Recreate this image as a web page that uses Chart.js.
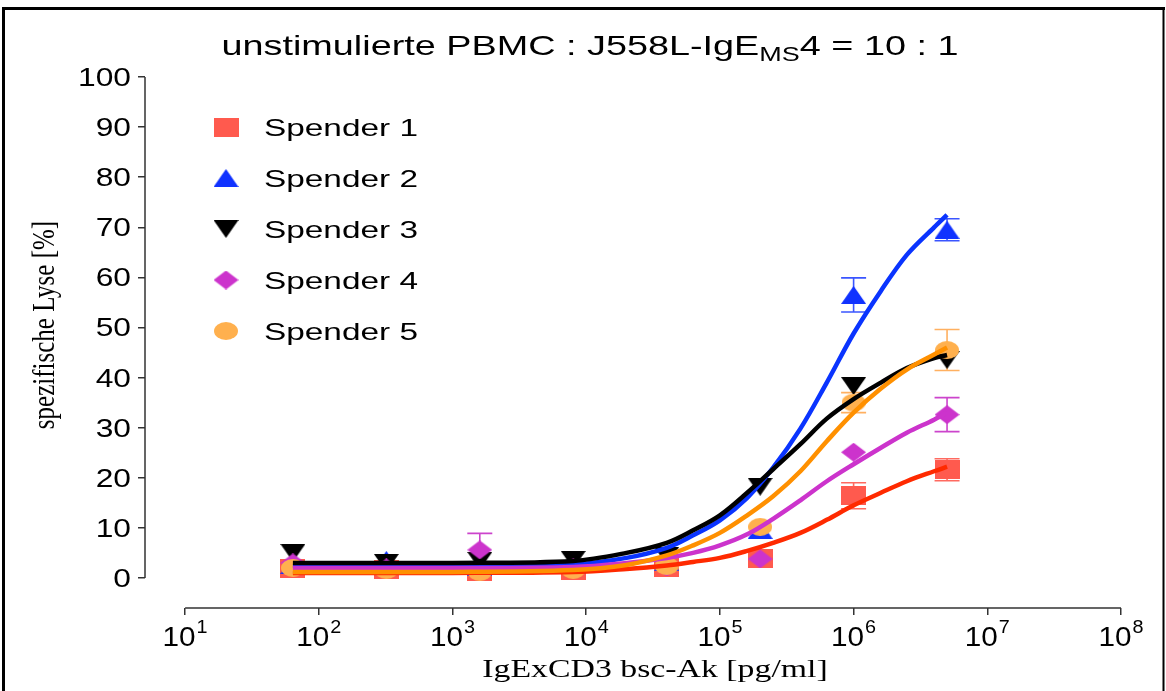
<!DOCTYPE html>
<html>
<head>
<meta charset="utf-8">
<script src="https://cdn.jsdelivr.net/npm/chart.js@4.4.0/dist/chart.umd.min.js"></script>
<style>
  html, body { margin: 0; padding: 0; background: #fff; }
  #wrap { width: 1166px; height: 691px; }
</style>
</head>
<body>
<div id="wrap"><canvas id="lyse" width="1166" height="691"></canvas></div>
<script>
// Konzentrationen der Messpunkte [pg/ml], 1:5 Verdünnungsreihe
var CONC = [64, 320, 1600, 8000, 40000, 200000, 1000000, 5000000];

var LABELS = ['Spender 1', 'Spender 2', 'Spender 3', 'Spender 4', 'Spender 5'];

// Mittelwerte spezifische Lyse [%]
var LYSE_S1 = [1.8, 1.6, 1.2, 1.4, 2.0, 3.8, 16.4, 21.6];
var LYSE_S2 = [2.6, 3.6, 2.2, 2.6, 3.2, 9.6, 56.5, 69.5];
var LYSE_S3 = [5.0, 3.0, 3.4, 3.6, 4.4, 18.2, 38.3, 43.5];
var LYSE_S4 = [3.0, 2.0, 5.6, 2.0, 2.2, 3.8, 25.1, 32.6];
var LYSE_S5 = [2.0, 1.6, 1.2, 1.6, 2.4, 10.2, 35.0, 45.5];

// Standardfehler (null = kein Balken)
var SEM_S1 = [null, null, null, null, null, null, 2.6, 2.2];
var SEM_S2 = [null, null, null, null, null, null, 3.4, 2.2];
var SEM_S3 = [null, null, null, null, null, null, null, null];
var SEM_S4 = [null, null, 3.3, null, null, null, null, 3.4];
var SEM_S5 = [null, null, null, null, null, null, 2.0, 4.1];

// Stützstellen der Fit-Kurven
var FIT_CONC = [64, 1000, 8000, 20000, 40000, 63000, 100000, 160000, 250000,
                400000, 630000, 1000000, 1600000, 2500000, 4000000, 5000000];
var FIT_S1 = [1.0, 1.0, 1.2, 1.8, 2.5, 3.2, 4.0, 5.4, 7.0, 9.0, 11.6, 14.5, 17.0, 19.3, 21.3, 22.2];
var FIT_S2 = [2.4, 2.4, 2.7, 4.0, 6.0, 8.5, 11.5, 16.0, 22.0, 29.8, 39.0, 48.8, 57.3, 64.5, 70.0, 72.5];
var FIT_S3 = [3.0, 3.0, 3.4, 5.0, 7.0, 9.5, 12.5, 17.0, 21.7, 26.7, 31.8, 35.7, 39.0, 41.9, 43.9, 44.5];
var FIT_S4 = [2.0, 2.0, 2.2, 3.0, 4.0, 5.0, 6.5, 8.7, 11.8, 15.5, 19.3, 22.7, 26.0, 29.0, 31.6, 33.0];
var FIT_S5 = [1.2, 1.2, 1.6, 2.6, 4.5, 6.5, 9.0, 12.5, 16.3, 21.3, 27.3, 33.0, 37.8, 41.6, 44.6, 46.0];

var X_TICKS = [1e1, 1e2, 1e3, 1e4, 1e5, 1e6, 1e7, 1e8];
var Y_TICKS = [0, 10, 20, 30, 40, 50, 60, 70, 80, 90, 100];

var SANS = '"Liberation Sans", Arial, sans-serif';
var SERIF = '"Liberation Serif", "Times New Roman", serif';

var MARKER_COLORS = ['#ff5a4e', '#1032ff', '#000000', '#cc33cc', '#ffb04e'];
var LINE_COLORS   = ['#ff2a00', '#0a34ff', '#000000', '#cc33cc', '#ff9000'];
var ERR_COLORS    = ['#ff6a60', '#3a55ff', '#000000', '#cc44cc', '#ffb060'];

// Marker als kleine Canvas-Bilder (Chart.js zeichnet sie zentriert)
function makeMarker(shape, w, h, color) {
    var c = document.createElement('canvas');
    c.width = w; c.height = h;
    var g = c.getContext('2d');
    g.fillStyle = color;
    g.beginPath();
    if (shape === 'square') {
        g.rect(0, 0, w, h);
    } else if (shape === 'up') {
        g.moveTo(w / 2, 0); g.lineTo(w, h); g.lineTo(0, h);
    } else if (shape === 'down') {
        g.moveTo(0, 0); g.lineTo(w, 0); g.lineTo(w / 2, h);
    } else if (shape === 'diamond') {
        g.moveTo(w / 2, 0); g.lineTo(w, h / 2); g.lineTo(w / 2, h); g.lineTo(0, h / 2);
    } else {
        g.ellipse(w / 2, h / 2, w / 2, h / 2, 0, 0, Math.PI * 2);
    }
    g.closePath();
    g.fill();
    return c;
}

var MARKERS = [
    makeMarker('square', 25, 19, MARKER_COLORS[0]),
    makeMarker('up', 25, 18, MARKER_COLORS[1]),
    makeMarker('down', 25, 18, MARKER_COLORS[2]),
    makeMarker('diamond', 25, 19, MARKER_COLORS[3]),
    makeMarker('circle', 24, 18, MARKER_COLORS[4])
];

var MEANS = [LYSE_S1, LYSE_S2, LYSE_S3, LYSE_S4, LYSE_S5];
var SEMS = [SEM_S1, SEM_S2, SEM_S3, SEM_S4, SEM_S5];
var FITS = [FIT_S1, FIT_S2, FIT_S3, FIT_S4, FIT_S5];

function pairs(xs, ys) {
    return xs.map(function(x, i) { return { x: x, y: ys[i] }; });
}

// Text mit horizontaler Streckung
function wideText(ctx, text, x, y, size, family, sx, align) {
    ctx.save();
    ctx.font = size + 'px ' + family;
    ctx.textBaseline = 'alphabetic';
    ctx.textAlign = 'left';
    var w = ctx.measureText(text).width * sx;
    var left = align === 'center' ? x - w / 2 : (align === 'right' ? x - w : x);
    ctx.translate(left, y);
    ctx.scale(sx, 1);
    ctx.fillText(text, 0, 0);
    ctx.restore();
    return w;
}

function textWidth(ctx, text, size, family, sx) {
    ctx.save();
    ctx.font = size + 'px ' + family;
    var w = ctx.measureText(text).width * sx;
    ctx.restore();
    return w;
}

var datasets = [];
// Fit-Kurven (oben liegend)
FITS.forEach(function(fit, i) {
    datasets.push({
        label: LABELS[i] + ' Fit',
        data: pairs(FIT_CONC, fit),
        showLine: true,
        borderColor: LINE_COLORS[i],
        borderWidth: 4.5,
        pointRadius: 0,
        tension: 0.35,
        order: 5 - i
    });
});
// Messpunkte
MEANS.forEach(function(vals, i) {
    datasets.push({
        label: LABELS[i],
        data: pairs(CONC, vals),
        showLine: false,
        pointStyle: MARKERS[i],
        pointRadius: 12,
        order: 15 - i
    });
});

var decor = {
    id: 'decor',
    beforeDatasetsDraw: function(chart) {
        var ctx = chart.ctx, xs = chart.scales.x, ys = chart.scales.y;
        ctx.save();
        ctx.lineWidth = 1.6;
        SEMS.forEach(function(sem, s) {
            ctx.strokeStyle = ERR_COLORS[s];
            sem.forEach(function(e, i) {
                if (e == null) return;
                var px = xs.getPixelForValue(CONC[i]);
                var top = ys.getPixelForValue(MEANS[s][i] + e);
                var bot = ys.getPixelForValue(MEANS[s][i] - e);
                ctx.beginPath();
                ctx.moveTo(px, top); ctx.lineTo(px, bot);
                ctx.moveTo(px - 12.5, top); ctx.lineTo(px + 12.5, top);
                ctx.moveTo(px - 12.5, bot); ctx.lineTo(px + 12.5, bot);
                ctx.stroke();
            });
        });
        ctx.restore();
    },
    afterDraw: function(chart) {
        var ctx = chart.ctx, xs = chart.scales.x, ys = chart.scales.y;
        var area = chart.chartArea;
        ctx.save();

        // Rahmen
        ctx.strokeStyle = '#000';
        ctx.lineWidth = 3;
        ctx.beginPath();
        ctx.moveTo(3.5, 691); ctx.lineTo(3.5, 8.5); ctx.lineTo(1165, 8.5);
        ctx.stroke();
        ctx.lineWidth = 2;
        ctx.beginPath();
        ctx.moveTo(1163.5, 8); ctx.lineTo(1163.5, 691);
        ctx.stroke();

        // Achsenlinien, abgesetzt
        ctx.strokeStyle = '#333';
        ctx.lineWidth = 1.5;
        ctx.beginPath();
        ctx.moveTo(area.left, ys.getPixelForValue(0));
        ctx.lineTo(area.left, ys.getPixelForValue(100));
        ctx.moveTo(xs.getPixelForValue(X_TICKS[0]), area.bottom);
        ctx.lineTo(xs.getPixelForValue(X_TICKS[X_TICKS.length - 1]), area.bottom);
        ctx.stroke();

        ctx.fillStyle = '#000';

        // y-Beschriftung
        Y_TICKS.forEach(function(v) {
            wideText(ctx, String(v), area.left - 14, ys.getPixelForValue(v) + 9, 25, SANS, 1.27, 'right');
        });

        // x-Beschriftung als Zehnerpotenzen
        X_TICKS.forEach(function(v) {
            var exp = String(Math.round(Math.log10(v)));
            var wb = textWidth(ctx, '10', 27, SANS, 1.1);
            var we = textWidth(ctx, exp, 18, SANS, 1.1);
            var left = xs.getPixelForValue(v) - (wb + we + 1) / 2;
            wideText(ctx, '10', left, 646, 27, SANS, 1.1, 'left');
            wideText(ctx, exp, left + wb + 1, 633, 18, SANS, 1.1, 'left');
        });

        // Achsentitel
        wideText(ctx, 'IgExCD3 bsc-Ak [pg/ml]', 655, 677, 26, SERIF, 1.3, 'center');
        ctx.save();
        ctx.translate(54, 325);
        ctx.rotate(-Math.PI / 2);
        ctx.scale(1, 1.3);
        ctx.font = '25px ' + SERIF;
        ctx.textAlign = 'center';
        ctx.textBaseline = 'alphabetic';
        ctx.fillText('spezifische Lyse [%]', 0, 0);
        ctx.restore();

        // Titel mit tiefgestelltem Index
        var parts = [
            { t: 'unstimulierte PBMC : J558L-IgE', size: 28, dy: 0 },
            { t: 'MS', size: 20, dy: 6 },
            { t: '4 = 10 : 1', size: 28, dy: 0 }
        ];
        var sx = 1.35;
        var total = parts.reduce(function(a, p) { return a + textWidth(ctx, p.t, p.size, SANS, sx); }, 0);
        var x = 590 - total / 2;
        parts.forEach(function(p) {
            x += wideText(ctx, p.t, x, 55 + p.dy, p.size, SANS, sx, 'left');
        });

        // Legende
        LABELS.forEach(function(lbl, i) {
            var cy = 127 + i * 51;
            var m = MARKERS[i];
            ctx.drawImage(m, 226 - m.width / 2, cy - m.height / 2);
            wideText(ctx, lbl, 264, cy + 8.5, 24, SANS, 1.39, 'left');
        });

        ctx.restore();
    }
};

new Chart(document.getElementById('lyse'), {
    type: 'scatter',
    data: { datasets: datasets },
    options: {
        responsive: false,
        animation: false,
        layout: { padding: { top: 77, right: 45, bottom: 0, left: 0 } },
        plugins: {
            legend: { display: false },
            tooltip: { enabled: false },
            title: { display: false }
        },
        scales: {
            x: {
                type: 'logarithmic',
                min: Math.pow(10, 0.7),
                max: 1e8,
                afterBuildTicks: function(s) {
                    s.ticks = X_TICKS.map(function(v) { return { value: v }; });
                },
                afterFit: function(s) { s.height = 83; },
                ticks: { display: false },
                grid: { drawOnChartArea: false, tickLength: 7, tickColor: '#333', lineWidth: 1.5 },
                border: { display: false }
            },
            y: {
                type: 'linear',
                min: -6,
                max: 100,
                afterBuildTicks: function(s) {
                    s.ticks = Y_TICKS.map(function(v) { return { value: v }; });
                },
                afterFit: function(s) { s.width = 145; },
                ticks: { display: false },
                grid: { drawOnChartArea: false, tickLength: 7, tickColor: '#333', lineWidth: 1.5 },
                border: { display: false }
            }
        }
    },
    plugins: [decor]
});
</script>
</body>
</html>
